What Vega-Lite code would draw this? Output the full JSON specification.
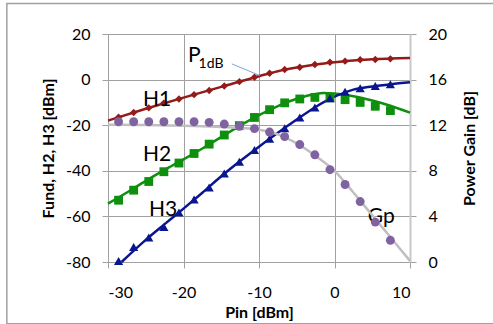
{
  "$schema": "https://vega.github.io/schema/vega-lite/v6.json",
  "autosize": {"type": "none"},
  "padding": {"left": 108, "top": 34, "right": 83, "bottom": 62},
  "width": 302,
  "height": 228,
  "background": "white",
  "datasets": {
    "meas": [
      {"Pin": -28.6, "H1": -16.5, "H2": -52.9, "H3": -79.6, "Gp": 12.3},
      {"Pin": -26.6, "H1": -14.4, "H2": -48.5, "H3": -73.4, "Gp": 12.3},
      {"Pin": -24.6, "H1": -12.4, "H2": -44.7, "H3": -69.3, "Gp": 12.3},
      {"Pin": -22.6, "H1": -10.3, "H2": -40.4, "H3": -64.6, "Gp": 12.3},
      {"Pin": -20.6, "H1": -8.5, "H2": -36.6, "H3": -58.3, "Gp": 12.3},
      {"Pin": -18.6, "H1": -6.6, "H2": -32.4, "H3": -52.6, "Gp": 12.3},
      {"Pin": -16.6, "H1": -4.8, "H2": -28.3, "H3": -47.3, "Gp": 12.25},
      {"Pin": -14.6, "H1": -2.8, "H2": -24.3, "H3": -41.2, "Gp": 12.1},
      {"Pin": -12.6, "H1": -0.9, "H2": -20.2, "H3": -36.0, "Gp": 11.9},
      {"Pin": -10.6, "H1": 1.0, "H2": -16.6, "H3": -30.9, "Gp": 11.7},
      {"Pin": -8.6, "H1": 2.8, "H2": -13.2, "H3": -25.9, "Gp": 11.4},
      {"Pin": -6.6, "H1": 4.4, "H2": -10.2, "H3": -21.3, "Gp": 11.0},
      {"Pin": -4.6, "H1": 5.4, "H2": -8.5, "H3": -16.6, "Gp": 10.3},
      {"Pin": -2.6, "H1": 6.6, "H2": -7.8, "H3": -12.2, "Gp": 9.4},
      {"Pin": -0.6, "H1": 7.6, "H2": -8.0, "H3": -8.2, "Gp": 8.1},
      {"Pin": 1.4, "H1": 8.1, "H2": -8.8, "H3": -5.3, "Gp": 6.8},
      {"Pin": 3.4, "H1": 8.7, "H2": -10.0, "H3": -3.8, "Gp": 5.3},
      {"Pin": 5.4, "H1": 8.8, "H2": -11.7, "H3": -2.8, "Gp": 3.5},
      {"Pin": 7.4, "H1": 9.1, "H2": -13.6, "H3": -2.0, "Gp": 1.9}
    ],
    "fit": [
      {"series": "H1", "Pin": -30, "v": -18.0},
      {"series": "H1", "Pin": -25, "v": -12.8},
      {"series": "H1", "Pin": -20, "v": -7.9},
      {"series": "H1", "Pin": -15, "v": -3.2},
      {"series": "H1", "Pin": -10, "v": 1.5},
      {"series": "H1", "Pin": -7.5, "v": 3.7},
      {"series": "H1", "Pin": -5, "v": 5.3},
      {"series": "H1", "Pin": -2.5, "v": 6.6},
      {"series": "H1", "Pin": 0, "v": 7.6},
      {"series": "H1", "Pin": 2.5, "v": 8.4},
      {"series": "H1", "Pin": 5, "v": 8.9},
      {"series": "H1", "Pin": 7.5, "v": 9.3},
      {"series": "H1", "Pin": 10, "v": 9.5},
      {"series": "H2", "Pin": -30, "v": -54.4},
      {"series": "H2", "Pin": -27.5, "v": -49.5},
      {"series": "H2", "Pin": -25, "v": -44.4},
      {"series": "H2", "Pin": -22.5, "v": -39.6},
      {"series": "H2", "Pin": -20, "v": -35.0},
      {"series": "H2", "Pin": -17.5, "v": -30.2},
      {"series": "H2", "Pin": -15, "v": -25.2},
      {"series": "H2", "Pin": -12.5, "v": -20.2},
      {"series": "H2", "Pin": -10, "v": -15.6},
      {"series": "H2", "Pin": -7.5, "v": -11.6},
      {"series": "H2", "Pin": -5, "v": -8.4},
      {"series": "H2", "Pin": -2.5, "v": -6.3},
      {"series": "H2", "Pin": -1.5, "v": -5.9},
      {"series": "H2", "Pin": 0, "v": -6.1},
      {"series": "H2", "Pin": 2.5, "v": -7.3},
      {"series": "H2", "Pin": 5, "v": -9.2},
      {"series": "H2", "Pin": 7.5, "v": -11.6},
      {"series": "H2", "Pin": 10, "v": -14.5},
      {"series": "H3", "Pin": -28.2, "v": -80.0},
      {"series": "H3", "Pin": -25, "v": -70.3},
      {"series": "H3", "Pin": -22.5, "v": -63.4},
      {"series": "H3", "Pin": -20, "v": -56.6},
      {"series": "H3", "Pin": -17.5, "v": -49.6},
      {"series": "H3", "Pin": -15, "v": -42.4},
      {"series": "H3", "Pin": -12.5, "v": -35.7},
      {"series": "H3", "Pin": -10, "v": -29.4},
      {"series": "H3", "Pin": -7.5, "v": -23.3},
      {"series": "H3", "Pin": -5, "v": -17.5},
      {"series": "H3", "Pin": -2.5, "v": -12.0},
      {"series": "H3", "Pin": 0, "v": -7.5},
      {"series": "H3", "Pin": 2.5, "v": -4.4},
      {"series": "H3", "Pin": 5, "v": -3.0},
      {"series": "H3", "Pin": 7.5, "v": -2.0},
      {"series": "H3", "Pin": 10, "v": -1.2}
    ],
    "gpfit": [
      {"Pin": -30, "v": 12.05},
      {"Pin": -25, "v": 12.02},
      {"Pin": -20, "v": 11.95},
      {"Pin": -15, "v": 11.85},
      {"Pin": -12.5, "v": 11.75},
      {"Pin": -10, "v": 11.6},
      {"Pin": -7.5, "v": 11.2},
      {"Pin": -5, "v": 10.4},
      {"Pin": -2.5, "v": 9.3},
      {"Pin": 0, "v": 8.0},
      {"Pin": 2.5, "v": 6.1},
      {"Pin": 5, "v": 4.1},
      {"Pin": 7.5, "v": 2.1},
      {"Pin": 10, "v": 0.1}
    ],
    "labels": [
      {"label": "H1", "Pin": -23.5, "v": -11.4},
      {"label": "H2", "Pin": -23.5, "v": -35.6},
      {"label": "H3", "Pin": -22.7, "v": -59.8},
      {"label": "Gp", "Pin": 6.2, "v": -62.9}
    ],
    "plabel": [{"label": "P", "Pin": -19.4, "v": 7.6}],
    "sublabel": [{"label": "1dB", "Pin": -18.0, "v": 5.3}],
    "arrow": [{"Pin": -13.6, "v": 6.9, "Pin2": -9.9, "v2": 1.8}],
    "frame": [{"x1": -43.4, "x2": 22, "y1": 33.4, "y2": -107.1}]
  },
  "config": {
    "view": {"stroke": null},
    "font": "Lato",
    "axis": {
      "gridColor": "#A0A0A0",
      "gridWidth": 1,
      "gridOpacity": 1,
      "tickColor": "#A0A0A0",
      "tickSize": 6,
      "domainColor": "#A0A0A0",
      "labelFontSize": 16,
      "labelColor": "#000000",
      "labelFont": "Lato",
      "titleFont": "Lato",
      "titleFontSize": 16,
      "titleFontWeight": "bold",
      "titleColor": "#000000"
    }
  },
  "layer": [
    {
      "layer": [
        {
          "data": {"name": "fit"},
          "mark": {"type": "line", "interpolate": "monotone", "strokeWidth": 2.5},
          "encoding": {
            "x": {"field": "Pin", "type": "quantitative", "scale": {"domain": [-30, 10], "nice": false}, "axis": {"values": [-30, -20, -10, 0, 10], "title": "Pin [dBm]", "grid": true, "labelPadding": 16, "labelExpr": "replace(datum.label, '\u2212', '-')", "titleX": 151, "titleY": 55, "titleBaseline": "alphabetic"}},
            "y": {"field": "v", "type": "quantitative", "scale": {"domain": [-80, 20], "nice": false}, "axis": {"values": [-80, -60, -40, -20, 0, 20], "title": "Fund, H2, H3 [dBm]", "grid": true, "labelPadding": 12, "labelExpr": "replace(datum.label, '\u2212', '-')", "titleAngle": 270, "titleX": -55, "titleY": 114, "titleBaseline": "alphabetic"}},
            "color": {"field": "series", "type": "nominal", "scale": {"domain": ["H1", "H2", "H3"], "range": ["#951B1B", "#0E8F0E", "#0A168F"]}, "legend": null}
          }
        },
        {
          "data": {"name": "frame"},
          "mark": {"type": "rect", "filled": false, "stroke": "#A0A0A0", "strokeWidth": 1.5, "clip": false},
          "encoding": {
            "x": {"field": "x1", "type": "quantitative"},
            "x2": {"field": "x2"},
            "y": {"field": "y1", "type": "quantitative"},
            "y2": {"field": "y2"}
          }
        },
        {
          "data": {"name": "meas"},
          "mark": {"type": "point", "shape": "diamond", "filled": true, "size": 55, "color": "#951B1B", "opacity": 1},
          "encoding": {
            "x": {"field": "Pin", "type": "quantitative"},
            "y": {"field": "H1", "type": "quantitative"}
          }
        },
        {
          "data": {"name": "meas"},
          "mark": {"type": "point", "shape": "square", "filled": true, "size": 78, "color": "#0E8F0E", "opacity": 1},
          "encoding": {
            "x": {"field": "Pin", "type": "quantitative"},
            "y": {"field": "H2", "type": "quantitative"}
          }
        },
        {
          "data": {"name": "meas"},
          "mark": {"type": "point", "shape": "triangle-up", "filled": true, "size": 85, "color": "#0A168F", "opacity": 1},
          "encoding": {
            "x": {"field": "Pin", "type": "quantitative"},
            "y": {"field": "H3", "type": "quantitative"}
          }
        },
        {
          "data": {"name": "arrow"},
          "mark": {"type": "rule", "color": "#7FA6D6", "strokeWidth": 1},
          "encoding": {
            "x": {"field": "Pin", "type": "quantitative"},
            "y": {"field": "v", "type": "quantitative"},
            "x2": {"field": "Pin2"},
            "y2": {"field": "v2"}
          }
        },
        {
          "data": {"name": "labels"},
          "mark": {"type": "text", "font": "Lato", "fontSize": 21, "align": "center", "baseline": "alphabetic", "color": "#000000"},
          "encoding": {
            "x": {"field": "Pin", "type": "quantitative"},
            "y": {"field": "v", "type": "quantitative"},
            "text": {"field": "label"}
          }
        },
        {
          "data": {"name": "plabel"},
          "mark": {"type": "text", "font": "Lato", "fontSize": 21, "align": "left", "baseline": "alphabetic", "color": "#000000"},
          "encoding": {
            "x": {"field": "Pin", "type": "quantitative"},
            "y": {"field": "v", "type": "quantitative"},
            "text": {"field": "label"}
          }
        },
        {
          "data": {"name": "sublabel"},
          "mark": {"type": "text", "font": "Lato", "fontSize": 14, "align": "left", "baseline": "alphabetic", "color": "#000000"},
          "encoding": {
            "x": {"field": "Pin", "type": "quantitative"},
            "y": {"field": "v", "type": "quantitative"},
            "text": {"field": "label"}
          }
        }
      ]
    },
    {
      "layer": [
        {
          "data": {"name": "gpfit"},
          "mark": {"type": "line", "interpolate": "monotone", "strokeWidth": 2.5, "color": "#BFBFBF"},
          "encoding": {
            "x": {"field": "Pin", "type": "quantitative"},
            "y": {"field": "v", "type": "quantitative", "scale": {"domain": [0, 20], "nice": false}, "axis": {"orient": "right", "values": [0, 4, 8, 12, 16, 20], "grid": false, "title": "Power Gain [dB]", "labelPadding": 12, "titleAngle": 270, "titleX": 64, "titleY": 114, "titleBaseline": "alphabetic", "domainColor": "#C8C8C8", "domainWidth": 2}}
          }
        },
        {
          "data": {"name": "meas"},
          "mark": {"type": "point", "shape": "circle", "filled": true, "size": 80, "color": "#7F63A1", "opacity": 1},
          "encoding": {
            "x": {"field": "Pin", "type": "quantitative"},
            "y": {"field": "Gp", "type": "quantitative"}
          }
        }
      ]
    }
  ],
  "resolve": {"scale": {"y": "independent"}}
}
